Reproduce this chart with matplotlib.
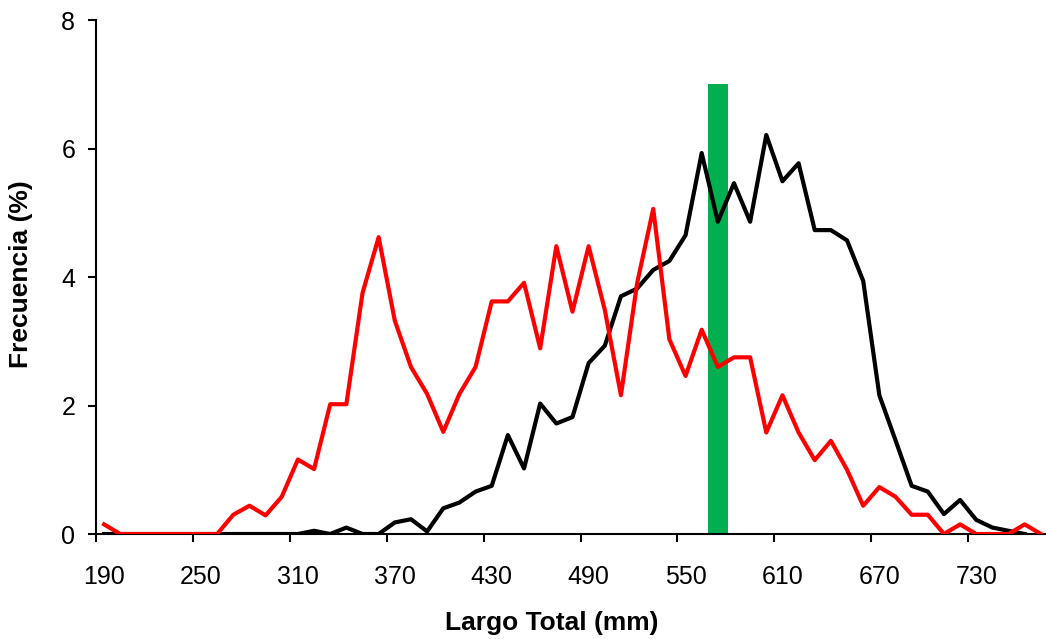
import numpy as np
import matplotlib.pyplot as plt

plt.rcParams['font.family'] = ['Liberation Sans', 'DejaVu Sans']

# largo total (mm), classes of 10 mm
largo = np.arange(190, 780, 10)

# black series (frecuencia %)
freq_negro = [0, 0, 0, 0, 0, 0, 0, 0, 0, 0,
              0, 0, 0, 0.05, 0, 0.1, 0, 0, 0.18, 0.23,
              0.04, 0.40, 0.49, 0.66, 0.75, 1.54, 1.02, 2.03, 1.72, 1.82,
              2.66, 2.93, 3.70, 3.82, 4.11, 4.25, 4.65, 5.93, 4.86, 5.46,
              4.86, 6.21, 5.49, 5.77, 4.73, 4.73, 4.57, 3.94, 2.16, 1.46,
              0.75, 0.66, 0.31, 0.53, 0.22, 0.10, 0.05, 0, np.nan]

# red series (frecuencia %)
freq_rojo = [0.15, 0, 0, 0, 0, 0, 0, 0, 0.30, 0.44,
             0.29, 0.58, 1.16, 1.01, 2.02, 2.02, 3.75, 4.62, 3.32, 2.60,
             2.18, 1.59, 2.18, 2.60, 3.62, 3.62, 3.91, 2.89, 4.48, 3.46,
             4.48, 3.49, 2.16, 3.90, 5.06, 3.03, 2.46, 3.18, 2.60, 2.75,
             2.75, 1.58, 2.16, 1.58, 1.15, 1.45, 1.00, 0.44, 0.73, 0.58,
             0.30, 0.30, 0, 0.15, 0, 0, 0, 0.15, 0]

# green marker bar
marca_x = [570]
marca_y = [7]

tick_labels = [str(v) for v in range(190, 740, 60)]

fig = plt.figure(figsize=(10.46, 6.39), dpi=100)
ax = fig.add_axes([0.0918, 0.1643, 0.911, 0.8044])

ax.bar(marca_x, marca_y, width=12, color='#00B050', zorder=1)
ax.plot(largo, freq_negro, color='black', lw=3, zorder=2)
ax.plot(largo, freq_rojo, color='#FF0000', lw=3, zorder=3)

ax.set_xlim(185, 775)
ax.set_ylim(0, 8)
ax.set_yticks([0, 2, 4, 6, 8])

# tick marks between categories, labels centered on categories
ax.set_xticks(np.arange(185, 776, 60))
ax.set_xticklabels([])
ax.set_xticks(np.arange(190, 740, 60), minor=True)
ax.set_xticklabels(tick_labels, minor=True)
ax.tick_params(axis='x', which='major', length=6, width=1.5, direction='out')
ax.tick_params(axis='x', which='minor', length=0, pad=22, labelsize=18)
ax.tick_params(axis='y', length=6, width=1.5, direction='out', labelsize=18, pad=9)

for s in ['top', 'right']:
    ax.spines[s].set_visible(False)
for s in ['left', 'bottom']:
    ax.spines[s].set_linewidth(1.5)

ax.set_xlabel('Largo Total (mm)', fontsize=19, fontweight='bold')
ax.xaxis.set_label_coords(0.478, -0.150)
ax.set_ylabel('Frecuencia (%)', fontsize=19, fontweight='bold')
ax.yaxis.set_label_coords(-0.066, 0.505)

fig.savefig('out.png', dpi=100)
